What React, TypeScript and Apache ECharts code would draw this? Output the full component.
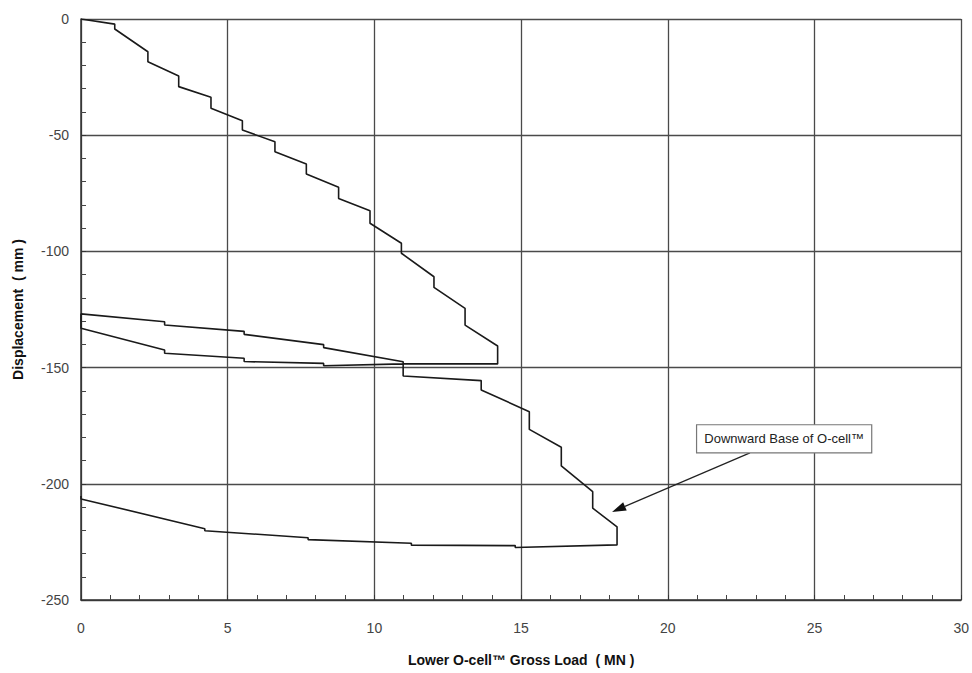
import React, { useEffect, useRef } from "react";
import * as echarts from "echarts";

// Load (MN) / displacement (mm) pairs, per test phase
const firstLoading: [number, number][] = [
  [0, 0], [1.15, -2.2], [1.15, -4.3], [2.28, -14.1], [2.28, -18.4],
  [3.33, -24.5], [3.33, -29.1], [4.43, -33.7], [4.43, -38.4],
  [5.5, -43.8], [5.5, -47.8], [6.61, -52.8], [6.61, -57.1],
  [7.68, -62.4], [7.68, -66.7], [8.78, -72.4], [8.78, -77.2],
  [9.85, -82.5], [9.85, -87.9], [10.92, -96.5], [10.92, -100.8],
  [12.03, -110.9], [12.03, -115.5], [13.09, -124.5], [13.09, -131.7],
  [14.2, -140.7], [14.2, -148.4],
];
const firstUnloading: [number, number][] = [
  [10.98, -148.4], [8.27, -149.2], [8.27, -148.2], [5.56, -147.4], [5.56, -146.0],
  [2.85, -143.8], [2.85, -142.4], [0, -133.1],
];
const reloading: [number, number][] = [
  [0, -126.9], [2.85, -130.3], [2.85, -131.7], [5.56, -134.4], [5.56, -135.7],
  [8.27, -140.1], [8.27, -141.4], [10.98, -147.5],
];
const secondLoading: [number, number][] = [
  [10.98, -153.6], [13.64, -155.6], [13.64, -159.6], [15.28, -169.0], [15.28, -176.6],
  [16.37, -184.3], [16.37, -192.3], [17.44, -203.4], [17.44, -210.5],
  [18.27, -218.5], [18.27, -226.3],
];
const finalUnloading: [number, number][] = [
  [14.8, -227.4], [14.8, -226.6], [11.26, -226.4], [11.26, -225.6],
  [7.74, -224.0], [7.74, -223.2], [4.22, -220.2], [4.22, -219.3],
  [0, -206.5], [0, -205.2],
];

const xTicks = [0, 5, 10, 15, 20, 25, 30];
const yTicks = [0, -50, -100, -150, -200, -250];

const annotationText = "Downward Base of O-cell™";
// annotation anchor points in data units [load, displacement]
const annotationBoxCorners: [number, number][] = [[20.98, -174.6], [26.95, -186.7]];
const arrowStart: [number, number] = [22.8, -186.7];
const arrowTip: [number, number] = [18.1, -212.1];

const FONT = "'Liberation Sans Narrow', 'Liberation Sans', Arial, sans-serif";

export default function App() {
  const ref = useRef<HTMLDivElement>(null);
  useEffect(() => {
    if (!ref.current) return;
    const chart = echarts.init(ref.current, null, { renderer: "svg" });
    const data = [
      ...firstLoading,
      ...firstUnloading,
      ...reloading,
      ...secondLoading,
      ...finalUnloading,
    ];
    const axisCommon = {
      type: "value" as const,
      axisLine: { show: true, onZero: false, lineStyle: { color: "#333", width: 1.5 } },
      axisTick: { show: true, inside: true, length: 5, lineStyle: { color: "#333" } },
      minorTick: { show: true, splitNumber: 5, length: 5, lineStyle: { color: "#444", width: 1 } },
      splitLine: { show: true, lineStyle: { color: "#4a4a4a", width: 1.3 } },
      minorSplitLine: { show: false },
      axisLabel: { color: "#444", fontSize: 14, fontFamily: FONT },
      nameTextStyle: { fontWeight: "bold" as const, fontSize: 14, fontFamily: FONT, color: "#111" },
      nameLocation: "middle" as const,
    };
    chart.setOption({
      animation: false,
      backgroundColor: "#fff",
      grid: { left: 81, right: 6, top: 19, bottom: 73 },
      xAxis: {
        ...axisCommon,
        min: xTicks[0],
        max: xTicks[xTicks.length - 1],
        interval: xTicks[1] - xTicks[0],
        name: "Lower O-cell™ Gross Load  ( MN )",
        nameGap: 53,
        axisLabel: { ...axisCommon.axisLabel, margin: 21 },
      },
      yAxis: {
        ...axisCommon,
        min: yTicks[yTicks.length - 1],
        max: yTicks[0],
        interval: yTicks[0] - yTicks[1],
        name: "Displacement  ( mm )",
        nameGap: 56,
        nameRotate: 90,
        axisLabel: { ...axisCommon.axisLabel, margin: 12 },
      },
      series: [
        {
          type: "line",
          data,
          showSymbol: false,
          symbol: "none",
          lineStyle: { color: "#1a1a1a", width: 1.6 },
          z: 5,
        },
      ],
    });

    const px = (p: [number, number]) => chart.convertToPixel({ gridIndex: 0 }, p) as number[];
    const b0 = px(annotationBoxCorners[0]);
    const b1 = px(annotationBoxCorners[1]);
    const s = px(arrowStart);
    const t = px(arrowTip);
    const dx = t[0] - s[0];
    const dy = t[1] - s[1];
    const len = Math.hypot(dx, dy);
    const ux = dx / len;
    const uy = dy / len;
    const headLen = 14;
    const headHalf = 4.5;
    const bx = t[0] - ux * headLen;
    const by = t[1] - uy * headLen;
    chart.setOption({
      graphic: [
        {
          type: "line",
          shape: { x1: s[0], y1: s[1], x2: bx, y2: by },
          style: { stroke: "#222", lineWidth: 1.2 },
          z: 20,
        },
        {
          type: "polygon",
          shape: {
            points: [
              [t[0], t[1]],
              [bx - uy * headHalf, by + ux * headHalf],
              [bx + uy * headHalf, by - ux * headHalf],
            ],
          },
          style: { fill: "#111" },
          z: 20,
        },
        {
          type: "rect",
          shape: { x: b0[0], y: b0[1], width: b1[0] - b0[0], height: b1[1] - b0[1] },
          style: { fill: "#fff", stroke: "#777", lineWidth: 1.2 },
          z: 20,
        },
        {
          type: "text",
          x: (b0[0] + b1[0]) / 2,
          y: (b0[1] + b1[1]) / 2,
          style: {
            text: annotationText,
            fill: "#222",
            font: `13px ${FONT}`,
            align: "center",
            verticalAlign: "middle",
          },
          z: 21,
        },
      ],
    });
    return () => chart.dispose();
  }, []);
  return (
    <div
      ref={ref}
      style={{ position: "absolute", left: 0, top: 0, width: 972, height: 673, background: "#fff" }}
    />
  );
}
